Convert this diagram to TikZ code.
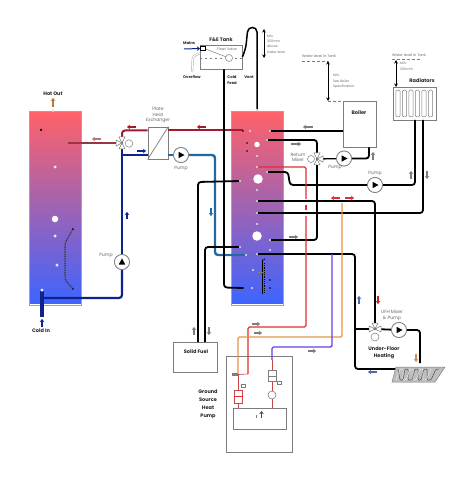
\documentclass[tikz,border=0pt]{standalone}
\usepackage{fontspec}
\setmainfont{Poppins}
\usetikzlibrary{arrows.meta,calc}
\definecolor{tkred}{RGB}{255,98,104}
\definecolor{tkblue}{RGB}{62,100,255}
\definecolor{dred}{RGB}{165,25,45}
\definecolor{hotp}{RGB}{150,55,65}
\definecolor{dblue}{RGB}{15,35,140}
\definecolor{sblue}{RGB}{35,105,160}
\definecolor{pred}{RGB}{230,45,50}
\definecolor{porange}{RGB}{232,150,70}
\definecolor{ppurple}{RGB}{105,60,235}
\definecolor{gline}{RGB}{125,125,125}
\definecolor{glabel}{RGB}{105,105,105}
\colorlet{gsc}{pred!70!gray}
\tikzset{
  pipe/.style={line width=1.8pt,rounded corners=3pt,black},
  thinpipe/.style={line width=1.4pt,rounded corners=1.5pt},
  tank/.style={draw=gline!70,line width=0.8pt},
  pumpnode/.style={circle,draw=gline,fill=white,line width=0.7pt,minimum size=15pt,inner sep=0pt},
  boxnode/.style={draw=gline,fill=white,line width=0.8pt,inner sep=0pt},
  lab/.style={font=\fontsize{4.6}{5}\selectfont,text=glabel,inner sep=0pt,align=center},
  blab/.style={font=\fontsize{5}{6}\selectfont\bfseries,text=black!85,inner sep=0pt,align=center},
  tiny/.style={font=\fontsize{3.3}{4}\selectfont,text=glabel,inner sep=0pt,align=left,anchor=west},
  port/.style={circle,fill=white,draw=gline!60,line width=0.2pt,inner sep=0pt,minimum size=#1},
  port/.default=2.5pt,
  pdot/.style={circle,fill=black,inner sep=0pt,minimum size=#1},
  pdot/.default=2pt,
  flowtip/.style={-{Stealth[length=3pt,width=4.5pt]},line width=1.1pt},
  dim/.style={{Stealth[length=3.5pt,width=3.5pt]}-{Stealth[length=3.5pt,width=3.5pt]},line width=0.7pt,black},
  lvl/.style={gline,line width=0.5pt,dash pattern=on 2.5pt off 2.5pt},
  gsl/.style={line width=0.6pt,gsc}
}
\newcommand{\tri}[4]{\draw[fill=white,draw=gline,line width=0.5pt] (#1,#2) -- ({#1+6*#3-3*#4},{#2+6*#4+3*#3}) -- ({#1+6*#3+3*#4},{#2+6*#4-3*#3}) -- cycle;}
\newcommand{\pumpri}[1]{\fill[black] ($(#1)+(-2.5,-3.2)$) -- ($(#1)+(3.6,0)$) -- ($(#1)+(-2.5,3.2)$) -- cycle;}
\newcommand{\flow}[5]{\draw[flowtip,#1] (#2,#3) -- (#4,#5);}
\begin{document}
\begin{tikzpicture}[x=1pt,y=-1pt]
\useasboundingbox (0,0) rectangle (474,494);
\fill[white] (0,0) rectangle (474,494);

% tanks
\shade[top color=tkred,bottom color=tkblue] (29,112) rectangle (81,303);
\draw[tank] (29,111.5) rectangle (81,305.5);
\shade[top color=tkred,bottom color=tkblue] (231,112) rectangle (283,303);
\draw[tank] (231,111.5) rectangle (283,305.5);
\node[port=2.5pt] at (53,111) {};
\node[port=2.5pt] at (257,110) {};

% main boxes
\node[boxnode,minimum width=42pt,minimum height=24pt] (fe) at (221,57) {};
\node[boxnode,minimum width=33pt,minimum height=46pt] (boiler) at (359.5,124) {};
\node[boxnode,minimum width=43pt,minimum height=33pt] (rad) at (414.5,103.5) {};
\node[boxnode,minimum width=44pt,minimum height=30pt] (solid) at (195,357) {};
\node[boxnode,minimum width=66pt,minimum height=96pt] (gshp) at (259,404) {};
\node[boxnode,minimum width=20pt,minimum height=32pt] (hx) at (158,143) {};
\draw[gline,line width=0.7pt] (hx.south west) -- (hx.north east);

% pumps
\node[pumpnode] (p1) at (181,155) {};
\node[pumpnode] (p2) at (122,262) {};
\node[pumpnode] (p3) at (344,158.5) {};
\node[pumpnode] (p4) at (375,185) {};
\node[pumpnode] (p5) at (399,330) {};

% coordinates
\coordinate (v1) at (122,143);
\coordinate (v2) at (317,159);
\coordinate (v3) at (375,329);
\coordinate (t1hot) at (68,143);
\coordinate (t1cold) at (42,298);
\coordinate (ciT) at (42,291);
\coordinate (ciB) at (42,317);
\coordinate (a1) at (243,130.5);
\coordinate (a2) at (270,131);
\coordinate (a3) at (267,140);
\coordinate (a4) at (270,240);
\coordinate (a5) at (257,167);
\coordinate (a6) at (267,172);
\coordinate (a7) at (257,201);
\coordinate (a8) at (257,213);
\coordinate (a9) at (240,181);
\coordinate (a10) at (240,247);
\coordinate (a11) at (246,255);
\coordinate (a12) at (257,254);
\coordinate (a13) at (243,288);
\coordinate (a14) at (257,109);
\coordinate (gL) at (238,374);
\coordinate (gM) at (248,374);
\coordinate (gR) at (272,360);
\coordinate (ufhL) at (398,369);
\coordinate (ufhR) at (420,363);

% dark red and blue circuit
\draw[line width=2pt,dred] (a1) -- (hx.north east |- a1);
\draw[line width=2pt,dred,rounded corners=3pt] (hx.north west |- a1) -- (v1 |- a1) -- (v1);
\draw[line width=2.6pt,hotp] (t1hot) -- (v1);
\draw[line width=2pt,dblue] (v1 |- p1) -- (hx.west |- p1);
\draw[line width=2.2pt,dblue,rounded corners=3pt] (v1) -- (p2.north);
\draw[line width=2.2pt,dblue,rounded corners=3pt] (p2.south) -- (v1 |- t1cold) -- (t1cold);
\draw[line width=4pt,dblue] (ciT) -- (ciB);
\draw[line width=2.4pt,sblue] (hx.east |- p1) -- (p1);
\draw[line width=2.4pt,sblue,rounded corners=3pt] (p1) -- (215,155) -- (215,255) -- (a11);

% black pipes
\draw[pipe] (fe.south -| 224,0) -- (224,287.5) -- (a13);
\draw[pipe,rounded corners=4pt,line width=1.5pt] (a14) -- (257,36) .. controls (257,26) and (248,26) .. (247,36) .. controls (246,46) and (246,48) .. (fe.east);
\draw[pipe] (boiler.west |- a2) -- (a2);
\draw[pipe] (boiler.south -| 369,0) -- (369,158.5) -- (p3);
\draw[pipe,line width=1.3pt] (p3) -- (v2);
\draw[pipe] (a3) -- (317,140) -- (317,240) -- (a4);
\draw[pipe] (a6) -- (288,172) -- (290,185) -- (p4);
\draw[pipe] (p4) -- (415,185) -- (415,120);
\draw[pipe] (a8) -- (423,213) -- (423,120);
\draw[pipe] (a7) -- (375,201) -- (v3);
\draw[pipe] (a12) -- (355,254) -- (355,369) -- (ufhL);
\draw[pipe] (355,329) -- (v3);
\draw[pipe] (v3) -- (p5) -- (420,330) -- (ufhR);
\draw[pipe] (a9) -- (198,182) -- (198,342);
\draw[pipe] (a10) -- (205,247) -- (205,342);

% source loop
\draw[thinpipe,pred] (a5) -- (306,167) -- (306,199);
\draw[thinpipe,pred] (306,205) -- (306,210);
\draw[thinpipe,pred] (306,216) -- (306,327) -- (248,327) -- (gM);
\draw[thinpipe,porange] (342,203) -- (342,337) -- (238,337) -- (gL);
\draw[thinpipe,ppurple] (332,254) -- (332,347) -- (272,347) -- (gR);

% coil in tank 2 and tank 1
\draw[line width=1.1pt,dash pattern=on 1pt off 0.8pt,black!80,rounded corners=3pt] (73,229) -- (65,243) -- (65,280) -- (73,289);
\draw[line width=1pt,black,rounded corners=2pt] (262,260) -- (262,294);
\draw[line width=1pt,dash pattern=on 1pt off 0.8pt,black] (264,263) -- (264,293);
\draw[line width=1pt,dash pattern=on 1pt off 0.8pt,black] (262.5,260) -- (265,259);
\draw[line width=0.7pt,gline] (257,272) -- (263,272);

% ports tank 1
\node[pdot=2.5pt] at (41,130) {};
\node[port=3pt] at (55,167) {};
\node[port=6.5pt,draw=none] at (55,219) {};
\node[port=3pt] at (55,236) {};
\node[port=3pt] at (57,265) {};
\node[pdot=1.7pt] at (73,229) {};
\node[pdot=1.7pt] at (73,289) {};
\node[port=3pt] at (42,290) {};

% ports tank 2
\node[port=5.5pt,draw=none] at (257,144.5) {};
\node[port=9.5pt,draw=none] at (258,179) {};
\node[port=9.5pt,draw=none] at (257,236) {};
\foreach \x/\y in {257/156,257/190,257/224,257/167,257/201,257/213,250/131,270/131,267/140,267/172,270/240,240/181,240/247,246/255,257/254,252/288,270/250,253/270}{
  \node[port=2.2pt] at (\x,\y) {};
}
\foreach \x/\y in {247/143,247/151,243/131,243/288,270/280,270/288}{
  \node[pdot=1.7pt] at (\x,\y) {};
}

% valves
\tri{122}{143}{0}{-1}\tri{122}{143}{0}{1}\tri{122}{143}{-1}{0}
\node[circle,draw=gline,fill=white,line width=0.5pt,minimum size=7.5pt,inner sep=0pt] (m1) at (129,143.5) {};
\tri{317}{159}{0}{-1}\tri{317}{159}{0}{1}\tri{317}{159}{1}{0}
\node[circle,draw=gline,fill=white,line width=0.5pt,minimum size=7pt,inner sep=0pt] (m2) at (311,159) {};
\tri{375}{329}{0}{-1}\tri{375}{329}{-1}{0}\tri{375}{329}{1}{0}
\node[circle,draw=gline,fill=white,line width=0.5pt,minimum size=8pt,inner sep=0pt] (m3) at (375,337) {};

% pump symbols on top of the pipes
\node[pumpnode] (p2b) at (p2) {};
\fill[black] ($(p2)+(-3.2,2.5)$) -- ($(p2)+(0,-3.6)$) -- ($(p2)+(3.2,2.5)$) -- cycle;
\node[pumpnode] (p1b) at (p1) {}; \pumpri{p1b}
\node[pumpnode] (p3b) at (p3) {}; \pumpri{p3b}
\node[pumpnode] (p4b) at (p4) {}; \pumpri{p4b}
\node[pumpnode] (p5b) at (p5) {}; \pumpri{p5b}

% F&E tank details
\draw[lvl] (fe.west |- 0,58) -- (fe.east |- 0,58);
\draw[line width=0.5pt,gline] (203,48) -- (229,58);
\node[circle,draw=gline,fill=white,line width=0.5pt,minimum size=7pt,inner sep=0pt] (fball) at (229,58) {};
\node[draw=black,fill=white,line width=0.5pt,minimum size=4.5pt,inner sep=0pt] (fvalve) at (202.5,48.5) {};
\draw[gline!60,line width=2.2pt,rounded corners=3pt] (200,53.5) -- (193,56) -- (192,72);
\draw[white,line width=1.1pt,rounded corners=3pt] (200,53.5) -- (193,56) -- (192,72);
\draw[flowtip,dblue,line width=1pt] (184,49) -- (fvalve.west);

% radiator fins
\foreach \x in {398,404.5,411,417.5,424,430.5}{
  \draw[gline,line width=0.5pt,rounded corners=2pt] (\x-2.2,90) rectangle (\x+2.2,117);
}

% UFH coil
\draw[gline,fill=gline!50,line width=0.5pt] (396,367) -- (445,367) -- (435,382) -- (392,382) -- cycle;
\draw[black!70,line width=0.5pt,rounded corners=1pt] (398,369) -- (400,380) -- (403,380) -- (405,369) -- (408,369) -- (408,380) -- (412,380) -- (415,369) -- (418,369) -- (418,380) -- (421,380) -- (424,369) -- (427,369) -- (427,380) -- (431,380) -- (436,369) -- (439,369);
\draw[white,line width=0.3pt,rounded corners=1pt] (396,380) -- (400,369) -- (403,369) -- (403,380) -- (406,380) -- (410,369) -- (413,369) -- (413,380) -- (416,380) -- (420,369) -- (423,369) -- (423,380) -- (426,380) -- (431,369);

% GSHP details
\node[boxnode,minimum width=53pt,minimum height=21pt] (inner) at (259.5,419) {};
\node[draw=gsc,fill=white,line width=0.6pt,minimum width=8.5pt,minimum height=13pt,inner sep=0pt] (comp1) at (238.5,396.5) {};
\draw[pred,line width=1pt] (comp1.west) -- (comp1.east);
\node[draw=gline,fill=white,line width=0.6pt,minimum width=8pt,minimum height=11pt,inner sep=0pt] (comp2) at (272,376) {};
\draw[gline,line width=0.5pt] (comp2.west) -- (comp2.east);
\node[circle,draw=gline,fill=white,line width=0.6pt,minimum size=8pt,inner sep=0pt] (comp3) at (272,395) {};
\draw[gsl] (gL) -- (comp1.north -| gL);
\draw[gsl] (comp1.south) -- (comp1.south |- inner.north);
\draw[gsl] (comp2.south) -- (comp3.north);
\draw[gsl] (comp3.south) -- (comp3.south |- inner.north);
\draw[gsl] (gR) -- (comp2.north);
\node[fill=gline,minimum width=6pt,minimum height=3pt,inner sep=0pt] (ev) at (235,374.5) {};
\draw[gsl] (ev.east) -- (gM);
\node[draw=gline,line width=0.4pt,minimum width=4pt,minimum height=3pt,inner sep=0pt] at (243.5,386) {};
\node[draw=gline,line width=0.4pt,minimum width=4pt,minimum height=3pt,inner sep=0pt] at (279,383) {};
\draw[flowtip,black!70,line width=0.7pt] (261.5,418) -- (261.5,411);
\draw[gline,line width=0.5pt] (256,415) -- (256,418);

% levels
\draw[lvl] (302,61) -- (328,61);
\draw[lvl] (328,101) -- (343,101);
\draw[dim] (328,61) -- (328,101);
\draw[lvl] (392,59) -- (420,59);
\draw[dim] (396,60) -- (396,87);
\draw[dim] (264,29) -- (264,58);

% flow arrows
\flow{dred}{136}{127}{127}{127}
\flow{dred}{206}{127}{197}{127}
\flow{hotp!70}{101}{139}{92}{139}
\flow{dblue}{137}{151}{146}{151}
\flow{dblue}{127}{219}{127}{212}
\flow{sblue}{211}{208}{211}{216}
\flow{porange!80!black}{53}{107}{53}{98}
\flow{dblue}{42}{327}{42}{319}
\flow{gline}{313}{127}{303}{127}
\flow{gline}{291}{144}{301}{144}
\flow{gline}{289}{237}{298}{237}
\flow{gline}{373}{160}{373}{152}
\flow{gline}{411}{179}{411}{171}
\flow{gline}{427}{171}{427}{179}
\flow{gline}{194}{335}{194}{327}
\flow{gline}{209}{327}{209}{335}
\flow{pred}{340}{198}{331}{198}
\flow{pred}{345}{198}{354}{198}
\flow{dblue!70!white}{359}{304}{359}{296}
\flow{pred!80!black}{378}{296}{378}{304}
\flow{porange!70!gray}{416}{354}{416}{362}
\flow{dblue!70!white}{377}{372}{368}{372}
\flow{gline}{252}{324}{260}{324}
\flow{gline}{254}{333}{262}{333}
\flow{gline}{308}{351}{316}{351}

% labels
\node[blab] at (53,94) {Hot Out};
\node[blab] at (41,331) {Cold In};
\node[lab] at (158,115) {Plate\\[0.9pt]Heat\\[0.9pt]Exchanger};
\node[lab] at (181,168) {Pump};
\node[lab] at (106,255) {Pump};
\node[blab] at (221,40) {F\&E Tank};
\node[blab,font=\fontsize{3.8}{4}\selectfont\bfseries] at (189,43) {Mains};
\node[lab,font=\fontsize{3.6}{4}\selectfont] at (227,49) {Float Valve};
\node[blab,font=\fontsize{3.8}{4}\selectfont\bfseries] at (192,77) {Overflow};
\node[blab,font=\fontsize{3.8}{5.8}\selectfont\bfseries] at (232,80) {Cold\\Feed};
\node[blab,font=\fontsize{3.8}{4}\selectfont\bfseries] at (249,77) {Vent};
\node[tiny] at (267,36) {Min.};
\node[tiny] at (267,41) {300mm};
\node[tiny] at (267,46) {above};
\node[tiny] at (267,52) {water level};
\node[lab,font=\fontsize{3.6}{4}\selectfont] at (319,56) {Water level in Tank};
\node[tiny] at (333,75) {Min.};
\node[tiny] at (333,81) {See Boiler};
\node[tiny] at (333,87) {Specification};
\node[lab,font=\fontsize{3.6}{4}\selectfont] at (409,55) {Water level in Tank};
\node[tiny] at (400,63) {Min.};
\node[tiny] at (400,69) {300mm};
\node[blab] at (359,113) {Boiler};
\node[blab] at (422,81) {Radiators};
\node[lab] at (298,157.5) {Return\\[0.8pt]Mixer};
\node[lab] at (335,167) {Pump};
\node[lab] at (375,173) {Pump};
\node[lab] at (392,315.5) {UFH Mixer\\[0.5pt]\& Pump};
\node[blab] at (384,353) {Under-Floor\\[1.5pt]Heating};
\node[blab] at (196,352) {Solid Fuel};
\node[blab] at (208,404) {Ground\\[2pt]Source\\[2pt]Heat\\[2pt]Pump};
\end{tikzpicture}
\end{document}
